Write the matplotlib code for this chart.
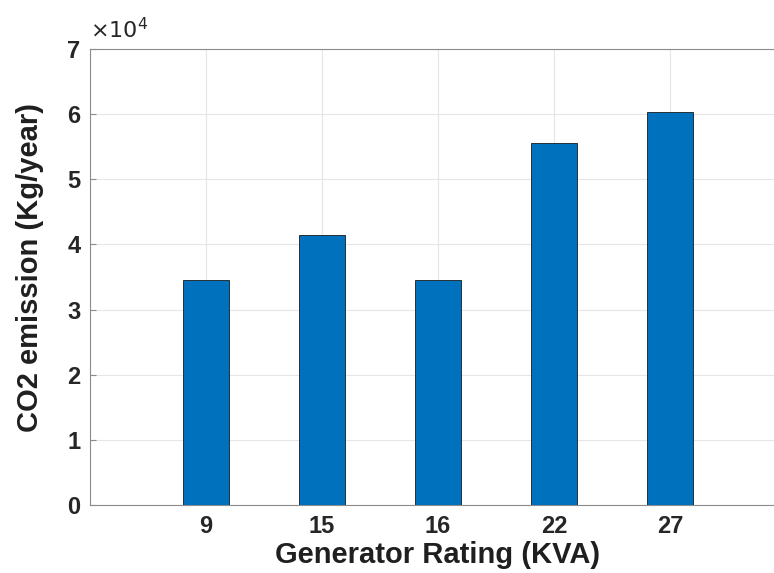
import matplotlib.pyplot as plt
import numpy as np

ratings = ['9', '15', '16', '22', '27']
co2 = [34600, 41500, 34600, 55600, 60300]

plt.rcParams['font.family'] = ['Liberation Sans', 'DejaVu Sans']

fig = plt.figure(figsize=(7.74, 5.73), dpi=100)
# axes run past the right edge (xlim 0..6), like the cropped original
ax = fig.add_axes([90/774, 68/573, 696/774, 456/573])

x = np.arange(1, len(ratings) + 1)
ax.bar(x, co2, width=0.4, color='#0072BD', edgecolor='#1a1a1a', linewidth=0.6, zorder=3)

ax.set_xlim(0, 6)
ax.set_ylim(0, 70000)
ax.set_xticks(x)
ax.set_xticklabels(ratings, fontsize=17, fontweight='bold', color='#262626')
yt = np.arange(0, 8)
ax.set_yticks(yt * 10000)
ax.set_yticklabels([str(v) for v in yt], fontsize=17, fontweight='bold', color='#262626')
ax.tick_params(direction='in', length=4, color='#8c8c8c', pad=7)

ax.grid(True, color='#e6e6e6', linewidth=0.8, zorder=0)
for s in ax.spines.values():
    s.set_color('#8c8c8c')
    s.set_linewidth(0.8)

ax.set_xlabel('Generator Rating (KVA)', fontsize=21, fontweight='bold', color='#1f1f1f', va='center')
ax.xaxis.set_label_coords(0.499, -50 / 456)
ax.set_ylabel('CO2 emission (Kg/year)', fontsize=21, fontweight='bold', color='#1f1f1f', va='center')
ax.yaxis.set_label_coords(-60 / 696, 0.52)
ax.text(0.0, 1.012, r'$\times10^{4}$', transform=ax.transAxes, fontsize=16,
        ha='left', va='bottom', color='#262626')

fig.savefig('out.png', dpi=100)
